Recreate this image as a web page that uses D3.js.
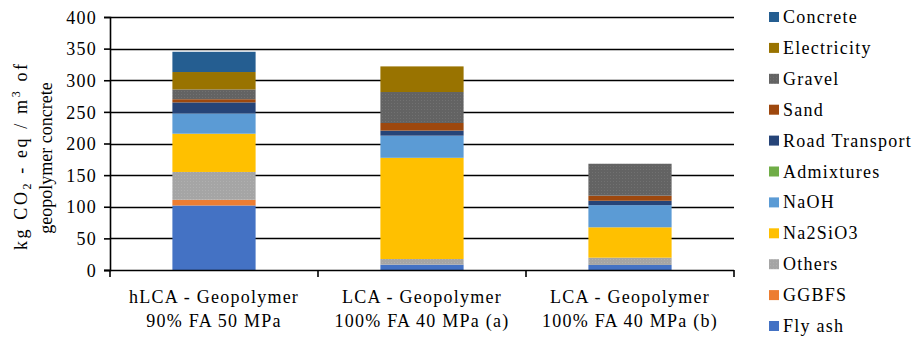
<!DOCTYPE html>
<html>
<head>
<meta charset="utf-8">
<script src="https://cdn.jsdelivr.net/npm/d3@7/dist/d3.min.js"></script>
<style>
  html, body { margin: 0; padding: 0; background: #fff; }
  svg { display: block; }
  svg text { font-family: "Liberation Serif", "Times New Roman", serif; fill: #000; }
</style>
</head>
<body>
<svg id="chart" width="922" height="337"></svg>
<script>
// Emission sources, bottom of the stack first
const sources = ["Fly ash", "GGBFS", "Others", "Na2SiO3", "NaOH", "Admixtures",
                 "Road Transport", "Sand", "Gravel", "Electricity", "Concrete"];
const colors = ["#4472C4", "#ED7D31", "#A5A5A5", "#FFC000", "#5B9BD5", "#70AD47",
                "#264478", "#9E480E", "#636363", "#997300", "#255E91"];

const categories = ["hLCA - Geopolymer|90% FA 50 MPa",
                    "LCA - Geopolymer|100% FA 40 MPa (a)",
                    "LCA - Geopolymer|100% FA 40 MPa (b)"];

// kg CO2-eq per m3 for each study, in the order of `sources`
const hlca90FA  = [102, 9, 44, 60.5, 32, 0, 17.5, 5, 15.5, 27.5, 32];
const lca100FAa = [8.4, 0, 9, 160, 35, 0, 8, 12, 49, 40.5, 0];
const lca100FAb = [8, 0, 11.5, 48, 35, 0, 7, 8, 50.5, 0, 0];
const seriesByCategory = [hlca90FA, lca100FAa, lca100FAb];

const yTicks = [0, 50, 100, 150, 200, 250, 300, 350, 400];

const FONT = 18, SPACING = 1.25;
const svg = d3.select("#chart");
const plotLeft = 110, plotRight = 734, plotTop = 17, plotBottom = 270;

const x = d3.scaleBand().domain(categories).range([plotLeft, plotRight]).padding(0);
const y = d3.scaleLinear().domain([0, 400]).range([plotBottom, plotTop]);
const barW = x.bandwidth() * 0.4;

// textures for the gravel and "others" fills
const defs = svg.append("defs");
function dotted(id, base, dot) {
  const p = defs.append("pattern").attr("id", id)
    .attr("width", 3).attr("height", 3).attr("patternUnits", "userSpaceOnUse");
  p.append("rect").attr("width", 3).attr("height", 3).attr("fill", base);
  p.append("rect").attr("x", 1).attr("y", 1).attr("width", 1).attr("height", 1).attr("fill", dot);
}
dotted("pat-gravel", "#636363", "#717171");
dotted("pat-others", "#A5A5A5", "#b0b0b0");

function fillFor(i) {
  if (sources[i] === "Gravel") return "url(#pat-gravel)";
  if (sources[i] === "Others") return "url(#pat-others)";
  return colors[i];
}

// gridlines
svg.append("g").selectAll("line").data(yTicks.filter(d => d > 0)).join("line")
  .attr("x1", plotLeft).attr("x2", plotRight)
  .attr("y1", d => Math.round(y(d)) + 0.5).attr("y2", d => Math.round(y(d)) + 0.5)
  .attr("stroke", "#000").attr("stroke-width", 1.6);

// stacked bars
const table = categories.map((c, ci) => {
  const row = { cat: c };
  sources.forEach((s, si) => row[s] = seriesByCategory[ci][si]);
  return row;
});
const stack = d3.stack().keys(sources)(table);
svg.append("g").selectAll("g").data(stack).join("g")
  .attr("fill", (d, i) => fillFor(i))
  .selectAll("rect").data(d => d).join("rect")
  .attr("x", d => x(d.data.cat) + (x.bandwidth() - barW) / 2)
  .attr("width", barW)
  .attr("y", d => y(d[1]))
  .attr("height", d => Math.max(0, y(d[0]) - y(d[1])));

// y axis
const yAxis = svg.append("g").attr("transform", `translate(${plotLeft},0)`)
  .call(d3.axisLeft(y).tickValues(yTicks).tickSize(6).tickPadding(7));
yAxis.attr("font-family", null).attr("font-size", null);
yAxis.select(".domain").attr("stroke", "#000").attr("stroke-width", 1.6);
yAxis.selectAll(".tick line").attr("stroke", "#000").attr("stroke-width", 1.6);
yAxis.selectAll(".tick text").attr("font-size", FONT).attr("letter-spacing", SPACING)
  .attr("dy", "0.34em");

// x axis: baseline with ticks between categories
const xg = svg.append("g");
xg.append("line").attr("x1", plotLeft - 6).attr("x2", plotRight)
  .attr("y1", plotBottom + 0.5).attr("y2", plotBottom + 0.5)
  .attr("stroke", "#000").attr("stroke-width", 1.6);
const bounds = categories.map(c => x(c)).concat([x(categories[categories.length - 1]) + x.bandwidth()]);
xg.selectAll("line.tk").data(bounds).join("line").attr("class", "tk")
  .attr("x1", d => d).attr("x2", d => d)
  .attr("y1", plotBottom).attr("y2", plotBottom + 7)
  .attr("stroke", "#000").attr("stroke-width", 1.6);
const labels = xg.selectAll("text.cl").data(categories).join("text").attr("class", "cl")
  .attr("text-anchor", "middle").attr("font-size", FONT).attr("letter-spacing", SPACING)
  .attr("transform", d => `translate(${x(d) + x.bandwidth() / 2},0)`);
labels.selectAll("tspan").data(d => d.split("|")).join("tspan")
  .attr("x", 0).attr("y", (d, i) => 303 + i * 24).text(d => d);

// y-axis title, two lines
const title = svg.append("text").attr("transform", "translate(27,157) rotate(-90)")
  .attr("text-anchor", "middle").attr("font-size", FONT)
  .attr("textLength", 186).attr("lengthAdjust", "spacing");
title.append("tspan").text("kg CO");
title.append("tspan").attr("font-size", 12).attr("dy", 4).text("2");
title.append("tspan").attr("dy", -4).text(" - eq / m");
title.append("tspan").attr("font-size", 12).attr("dy", -7).text("3");
title.append("tspan").attr("dy", 7).text(" of");
svg.append("text").attr("transform", "translate(52,158) rotate(-90)")
  .attr("text-anchor", "middle").attr("font-size", FONT)
  .text("geopolymer concrete");

// legend, top entry is the top of the stack
const legendItems = sources.map((s, i) => ({ s, i })).reverse();
const lg = svg.append("g").selectAll("g").data(legendItems).join("g")
  .attr("transform", (d, k) => `translate(769,${17 + k * 30.9})`);
lg.append("rect").attr("x", 0).attr("y", -5).attr("width", 10).attr("height", 10)
  .attr("fill", d => fillFor(d.i));
lg.append("text").attr("x", 14).attr("y", 6).attr("font-size", FONT)
  .attr("letter-spacing", SPACING).text(d => d.s);
</script>
</body>
</html>
